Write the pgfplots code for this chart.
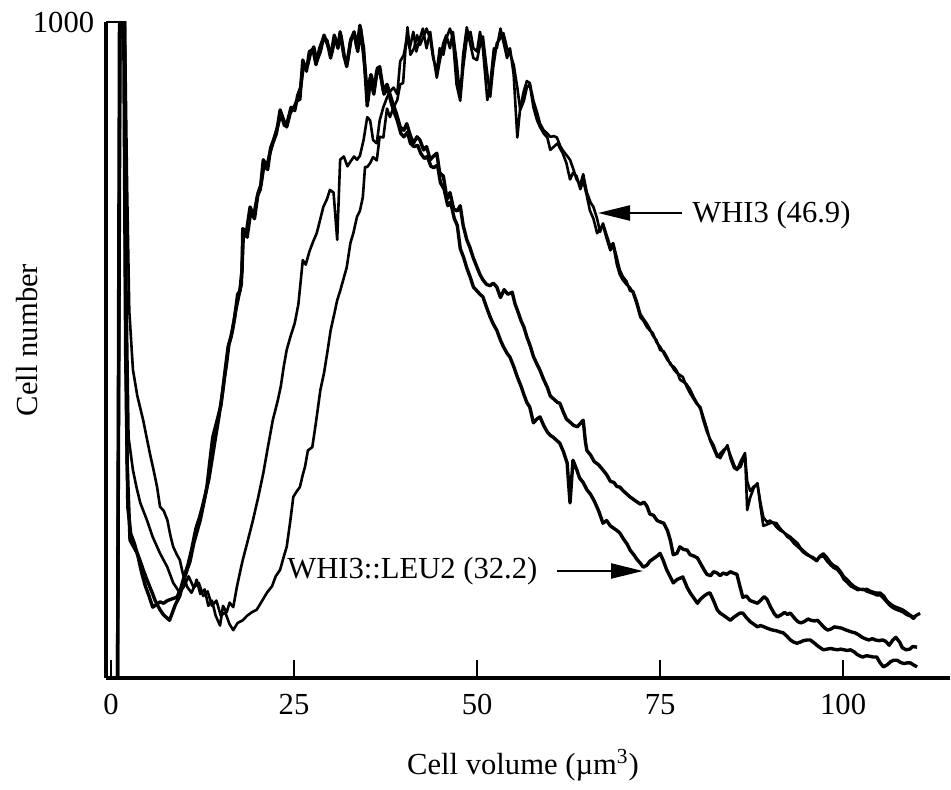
\documentclass[border=0pt]{standalone}
\usepackage{fontspec}
\setmainfont{Liberation Serif}
\usepackage{pgfplots}
\pgfplotsset{compat=1.18}
\usetikzlibrary{arrows.meta}
\newcommand{\lbl}{\fontsize{15.3}{18}\selectfont}
\begin{document}
\begin{tikzpicture}[font=\lbl]
\path[use as bounding box] (0,0) rectangle (475.5pt,394.5pt);
\begin{axis}[
  at={(53pt,55.5pt)}, anchor=south west, scale only axis,
  width=422pt, height=328pt,
  xmin=-0.68, xmax=114.6, ymin=0, ymax=1000,
  axis x line=bottom, axis y line=left,
  axis line style={-, line width=1.6pt},
  xtick={0,25,50,75,100}, ytick={1000},
  tick align=inside, major tick length=9pt,
  tick style={line width=1.3pt, black},
  /pgf/number format/assume math mode=true,
  /pgf/number format/1000 sep={},
  tick label style={font=\lbl},
  xticklabel style={yshift=-4.5pt},
  yticklabel style={xshift=-2.4pt},
  every axis plot/.append style={no markers, black, line join=round},
]
% WHI3::LEU2, curve a
\addplot[line width=1.7pt] coordinates {
(0.9,0)(1.3,1150)(1.8,1050)(2.0,600)(2.2,330)(2.6,210)(3.1,200)(3.6,190)(4.0,178)(4.4,165)(4.9,150)(5.3,139)(5.7,128)(6.0,119)(6.4,110)(6.7,104)(7.2,96)(7.6,92)(8.0,88)(8.4,100)(8.8,112)(9.4,125)(9.9,148)(10.4,165)(10.8,178)(11.3,205)(11.8,225)(12.2,241)(12.7,268)(13.1,291)(13.5,330)(13.9,367)(14.5,393)(15.0,415)(15.3,440)(15.6,470)(16.0,505)(16.4,520)(16.9,550)(17.3,585)(17.6,590)(17.9,622)(18.0,685)(18.5,680)(19.0,718)(19.5,705)(20.0,735)(20.4,745)(20.8,790)(21.3,780)(21.7,800)(22.1,815)(22.6,830)(23.1,866)(23.6,850)(24.0,840)(24.5,862)(25.0,870)(25.4,880)(25.8,882)(26.2,942)(26.7,925)(27.1,955)(27.6,958)(28.0,935)(28.5,960)(29.0,975)(29.5,972)(30.0,945)(30.5,980)(31.0,960)(31.3,985)(31.8,950)(32.2,932)(32.7,970)(33.2,985)(33.6,960)(34.0,995)(34.5,960)(35.0,872)(35.4,915)(35.9,890)(36.3,925)(36.7,932)(37.2,895)(37.7,905)(38.1,890)(38.5,876)(39.0,860)(39.5,840)(40.0,835)(40.4,845)(40.8,830)(41.3,815)(41.8,825)(42.2,820)(42.7,805)(43.1,810)(43.6,790)(44.0,795)(44.5,800)(44.9,770)(45.4,765)(45.9,730)(46.3,740)(46.8,715)(47.3,712)(47.7,720)(48.1,690)(48.6,668)(49.0,657)(49.5,640)(50.0,626)(50.4,615)(50.8,607)(51.3,600)(51.8,598)(52.2,602)(52.7,596)(53.2,580)(53.7,592)(54.2,585)(54.8,588)(55.2,570)(55.5,561)(56.0,545)(56.4,535)(56.8,520)(57.3,505)(57.7,490)(58.2,478)(58.6,469)(59.1,455)(59.6,443)(60.0,430)(60.5,425)(61.0,420)(61.3,419)(61.8,405)(62.2,395)(62.7,390)(63.2,385)(63.7,383)(64.1,388)(64.5,393)(64.8,360)(65.0,347)(65.5,340)(66.0,330)(66.6,325)(67.2,317)(67.7,310)(68.2,300)(68.7,298)(69.1,292)(69.5,291)(70.0,285)(70.5,280)(70.9,276)(71.4,272)(71.9,268)(72.3,265)(72.8,268)(73.2,262)(73.6,250)(74.1,248)(74.6,240)(75.0,238)(75.5,236)(76.0,225)(76.4,210)(76.8,188)(77.3,190)(77.7,200)(78.2,196)(78.7,195)(79.1,188)(79.6,186)(80.1,183)(80.5,175)(81.0,165)(81.4,158)(81.9,156)(82.3,162)(82.8,160)(83.2,156)(83.6,160)(84.1,158)(84.6,162)(85.0,160)(85.5,158)(85.9,140)(86.3,123)(86.8,125)(87.3,118)(87.8,116)(88.3,114)(88.7,118)(89.2,124)(89.6,120)(90.1,108)(90.6,98)(91.0,93)(91.5,96)(92.0,100)(92.4,97)(92.8,99)(93.3,92)(93.8,86)(94.2,84)(94.7,86)(95.2,90)(95.6,88)(96.1,87)(96.5,88)(97.0,82)(97.5,76)(97.9,73)(98.4,75)(98.8,78)(99.3,77)(99.8,76)(100.2,74)(100.7,72)(101.2,70)(101.6,69)(102.1,66)(102.6,62)(103.0,60)(103.5,58)(104.0,60)(104.4,58)(104.9,57)(105.4,58)(105.8,56)(106.3,50)(106.8,58)(107.2,62)(107.7,55)(108.1,46)(108.6,43)(109.1,44)(109.5,48)(110.1,47)
};
% WHI3::LEU2, curve b
\addplot[line width=1.7pt] coordinates {
(0.9,0)(1.2,1150)(1.7,1080)(2.0,500)(2.3,260)(2.7,220)(3.2,205)(3.7,185)(4.2,160)(4.7,140)(5.2,125)(5.7,108)(6.2,112)(6.7,116)(7.2,114)(7.7,118)(8.2,120)(8.7,122)(9.0,123)(9.5,135)(10.0,155)(10.5,172)(11.0,195)(11.6,228)(12.1,245)(12.5,262)(13.0,285)(13.4,305)(13.9,340)(14.3,368)(14.7,395)(15.1,425)(15.4,450)(15.8,480)(16.1,508)(16.6,530)(17.0,558)(17.4,580)(17.8,600)(18.1,680)(18.6,672)(19.1,712)(19.6,700)(20.1,740)(20.5,752)(20.9,782)(21.4,775)(21.8,808)(22.2,820)(22.7,838)(23.2,860)(23.7,842)(24.1,848)(24.6,870)(25.1,865)(25.5,888)(25.9,900)(26.3,935)(26.8,932)(27.2,950)(27.7,962)(28.1,940)(28.6,955)(29.1,980)(29.6,965)(30.1,950)(30.6,975)(31.1,968)(31.4,980)(31.9,945)(32.3,940)(32.8,975)(33.3,980)(33.7,955)(34.1,990)(34.6,940)(35.1,880)(35.5,920)(36.0,900)(36.4,930)(36.8,920)(37.3,890)(37.8,900)(38.2,880)(38.6,865)(39.1,850)(39.6,830)(40.0,825)(40.5,832)(40.9,815)(41.4,810)(41.9,812)(42.3,800)(42.8,792)(43.2,795)(43.7,780)(44.1,778)(44.6,782)(45.0,755)(45.5,745)(46.0,720)(46.4,725)(46.9,700)(47.3,690)(47.7,655)(48.2,640)(48.6,625)(49.1,610)(49.5,596)(50.0,590)(50.4,585)(50.8,581)(51.3,565)(51.8,550)(52.2,540)(52.7,530)(53.2,515)(53.6,505)(54.1,495)(54.5,489)(55.0,475)(55.5,459)(56.0,445)(56.4,432)(56.8,420)(57.2,413)(57.7,389)(58.2,395)(58.6,398)(59.1,385)(59.6,375)(60.0,370)(60.4,367)(60.9,362)(61.3,358)(61.8,345)(62.3,328)(62.7,267)(63.1,332)(63.6,318)(64.0,305)(64.5,298)(65.0,287)(65.5,280)(66.0,270)(66.6,255)(67.2,236)(67.7,240)(68.2,232)(68.7,228)(69.1,225)(69.5,221)(70.0,212)(70.5,204)(70.9,195)(71.4,188)(71.9,180)(72.3,175)(72.7,169)(73.2,172)(73.6,178)(74.1,182)(74.6,186)(75.0,190)(75.4,180)(75.9,165)(76.4,154)(76.8,145)(77.3,150)(77.7,152)(78.1,154)(78.7,138)(79.1,130)(79.6,122)(80.1,114)(80.5,120)(81.0,125)(81.4,128)(81.8,130)(82.3,118)(82.8,104)(83.2,99)(83.6,96)(84.1,92)(84.6,88)(85.0,92)(85.5,96)(85.9,99)(86.3,99)(86.8,92)(87.3,86)(87.8,82)(88.3,78)(88.7,80)(89.2,78)(89.6,76)(90.1,74)(90.4,73)(90.9,72)(91.4,70)(91.8,69)(92.3,64)(92.8,58)(93.2,55)(93.7,53)(94.2,55)(94.6,57)(95.1,58)(95.5,58)(96.0,54)(96.4,50)(96.9,46)(97.3,43)(97.8,44)(98.3,45)(98.7,44)(99.2,43)(99.7,44)(100.1,43)(100.6,42)(101.0,43)(101.5,40)(101.9,36)(102.4,33)(102.7,32)(103.2,34)(103.7,33)(104.1,32)(104.6,32)(105.0,24)(105.5,17)(106.0,20)(106.5,25)(106.9,27)(107.4,27)(107.8,24)(108.3,22)(108.7,23)(109.2,23)(109.6,20)(110.1,17)
};
% WHI3, curve a
\addplot[line width=1.3pt] coordinates {
(0.9,0)(1.3,1150)(1.9,1000)(2.2,750)(2.5,560)(3.0,470)(3.6,430)(4.4,393)(5.3,343)(5.8,318)(6.3,291)(6.7,261)(7.2,255)(7.7,241)(8.1,218)(8.5,200)(9.0,188)(9.4,180)(9.8,160)(10.4,139)(11.0,130)(11.5,142)(11.7,150)(12.2,128)(12.8,135)(13.3,110)(13.8,118)(14.3,95)(14.9,80)(15.3,110)(15.8,100)(16.2,115)(16.7,108)(17.2,139)(17.6,160)(18.0,180)(18.7,210)(19.4,241)(20.1,275)(20.8,312)(21.4,350)(22.1,393)(22.8,424)(23.2,445)(23.6,475)(24.0,500)(24.5,520)(25.1,541)(25.6,570)(26.2,637)(26.6,630)(27.1,650)(27.6,665)(28.1,678)(28.6,700)(29.0,718)(29.5,730)(29.9,744)(30.4,740)(30.9,668)(31.3,790)(31.8,795)(32.3,780)(32.7,787)(33.2,795)(33.6,790)(34.0,796)(34.5,820)(35.0,855)(35.4,850)(35.8,820)(36.3,815)(36.7,850)(37.2,870)(37.7,885)(38.1,894)(38.6,900)(39.1,890)(39.5,940)(40.0,950)(40.4,975)(40.8,960)(41.3,985)(41.7,955)(42.2,975)(42.6,990)(43.1,960)(43.6,985)(44.0,950)(44.5,915)(44.9,940)(45.4,968)(45.8,980)(46.3,960)(46.7,985)(47.2,940)(47.7,885)(48.1,950)(48.6,992)(49.1,965)(49.5,945)(50.0,942)(50.4,965)(50.8,978)(51.3,930)(51.8,886)(52.2,930)(52.7,968)(53.2,975)(53.6,983)(54.1,960)(54.5,952)(55.0,935)(55.5,900)(55.9,866)(56.4,880)(56.8,900)(57.2,905)(57.7,870)(58.2,850)(58.6,840)(59.1,830)(59.6,824)(60.0,805)(60.5,810)(61.0,815)(61.3,808)(61.7,800)(62.2,785)(62.7,760)(63.1,770)(63.6,765)(64.1,745)(64.5,758)(65.0,735)(65.4,713)(65.9,700)(66.4,678)(66.8,685)(67.2,690)(67.7,670)(68.2,652)(68.6,660)(69.1,630)(69.5,615)(69.9,607)(70.4,600)(70.9,595)(71.3,587)(71.8,570)(72.3,550)(72.7,545)(73.2,535)(73.6,530)(74.0,526)(74.5,512)(75.0,505)(75.5,495)(76.0,485)(76.4,480)(76.9,470)(77.3,465)(77.7,462)(78.1,459)(78.6,445)(79.1,434)(79.6,425)(80.0,418)(80.5,413)(80.9,398)(81.4,380)(81.8,363)(82.3,350)(82.8,337)(83.2,342)(83.7,348)(84.2,352)(84.6,340)(85.1,325)(85.5,317)(86.0,330)(86.6,343)(86.9,256)(87.3,275)(87.8,290)(88.3,297)(88.7,262)(89.1,232)(89.6,234)(90.0,236)(90.5,237)(90.9,236)(91.4,228)(91.9,222)(92.4,218)(92.8,215)(93.3,210)(93.8,205)(94.2,198)(94.5,195)(95.0,190)(95.5,186)(95.9,184)(96.4,180)(96.8,186)(97.3,190)(97.8,184)(98.3,176)(98.7,172)(99.2,169)(99.7,162)(100.1,155)(100.6,150)(101.0,145)(101.5,140)(102.0,137)(102.7,134)(103.2,136)(103.7,133)(104.2,131)(104.6,130)(105.1,130)(105.6,125)(106.0,118)(106.4,114)(106.9,110)(107.3,108)(107.8,106)(108.2,104)(108.7,100)(109.2,96)(109.6,93)(110.0,96)(110.5,99)
};
% WHI3, curve b
\addplot[line width=1.3pt] coordinates {
(0.9,0)(1.3,1150)(1.9,1050)(2.1,600)(2.4,367)(3.0,317)(3.5,290)(4.0,267)(4.9,241)(5.7,215)(6.7,190)(7.7,169)(8.5,145)(9.4,130)(10.0,140)(10.6,155)(11.3,138)(12.0,145)(12.6,125)(13.2,132)(13.8,110)(14.4,118)(15.0,95)(15.6,100)(16.2,82)(16.7,73)(17.3,84)(18.0,88)(18.6,95)(19.2,100)(19.9,104)(20.5,115)(21.3,130)(22.0,140)(22.5,155)(23.1,165)(23.6,185)(24.0,200)(24.5,240)(24.9,276)(25.4,285)(25.8,291)(26.2,310)(26.5,322)(26.9,347)(27.5,352)(28.0,390)(28.6,439)(29.1,465)(29.6,500)(30.0,530)(30.5,555)(30.9,576)(31.3,590)(31.8,610)(32.2,626)(32.7,663)(33.1,678)(33.6,703)(34.0,712)(34.4,733)(34.7,779)(35.0,779)(35.4,785)(35.8,794)(36.3,789)(36.7,825)(37.2,824)(37.7,868)(38.1,855)(38.6,870)(39.1,881)(39.5,905)(39.9,907)(40.2,955)(40.5,992)(40.9,950)(41.4,960)(41.8,980)(42.2,965)(42.7,978)(43.1,990)(43.6,975)(44.0,945)(44.5,925)(44.9,960)(45.4,950)(45.8,975)(46.3,990)(46.7,975)(47.2,905)(47.7,880)(48.1,930)(48.6,975)(49.1,985)(49.5,960)(50.0,955)(50.4,985)(50.8,960)(51.4,881)(51.8,905)(52.3,960)(52.7,960)(53.2,990)(53.6,970)(54.1,945)(54.5,960)(55.0,920)(55.5,824)(55.9,870)(56.4,895)(56.8,910)(57.2,907)(57.7,880)(58.2,862)(58.6,845)(59.1,835)(59.6,830)(60.0,825)(60.5,826)(60.9,824)(61.4,810)(61.8,803)(62.3,796)(62.7,790)(63.2,774)(63.6,760)(64.1,752)(64.5,768)(65.0,740)(65.5,725)(65.9,718)(66.4,700)(66.8,680)(67.2,693)(67.7,675)(68.2,658)(68.6,663)(69.1,640)(69.5,622)(69.9,612)(70.4,605)(70.9,590)(71.3,590)(71.8,575)(72.3,555)(72.7,548)(73.2,540)(73.6,532)(74.0,522)(74.5,515)(75.0,500)(75.5,498)(76.0,488)(76.4,478)(76.9,474)(77.3,468)(77.7,455)(78.1,452)(78.6,448)(79.1,440)(79.6,428)(80.0,420)(80.5,410)(80.9,393)(81.4,375)(81.8,365)(82.3,355)(82.8,340)(83.2,335)(83.7,345)(84.2,355)(84.6,335)(85.1,320)(85.5,318)(86.0,322)(86.6,340)(86.9,300)(87.3,285)(87.8,292)(88.3,295)(88.7,268)(89.1,245)(89.6,238)(90.0,240)(90.5,236)(90.9,230)(91.4,225)(91.9,222)(92.4,215)(92.8,212)(93.3,205)(93.8,200)(94.2,196)(94.5,192)(95.0,188)(95.5,185)(95.9,182)(96.4,178)(96.8,184)(97.3,186)(97.8,178)(98.3,172)(98.7,168)(99.2,165)(99.7,158)(100.1,150)(100.6,145)(101.0,140)(101.5,137)(102.0,134)(102.7,136)(103.2,132)(103.7,130)(104.2,128)(104.6,126)(105.1,126)(105.6,120)(106.0,115)(106.4,110)(106.9,106)(107.3,104)(107.8,102)(108.2,100)(108.7,96)(109.2,94)(109.6,90)(110.0,95)(110.5,98)
};
\end{axis}
% labels and annotations
\node[rotate=90, inner sep=0] at (13.5pt,224.5pt) {Cell number};
\node[inner sep=0] at (261.5pt,12pt) {Cell volume (µm\textsuperscript{3})};
\node[anchor=west, inner sep=0] at (346pt,287pt) {WHI3 (46.9)};
\draw[line width=1.1pt, -{Triangle[length=16pt,width=7.5pt]}] (341pt,288pt) -- (299pt,288pt);
\node[anchor=west, inner sep=0] at (143.5pt,109pt) {WHI3::LEU2 (32.2)};
\draw[line width=1.1pt, -{Triangle[length=16pt,width=7.5pt]}] (278.5pt,109pt) -- (321.5pt,109pt);
\end{tikzpicture}
\end{document}
